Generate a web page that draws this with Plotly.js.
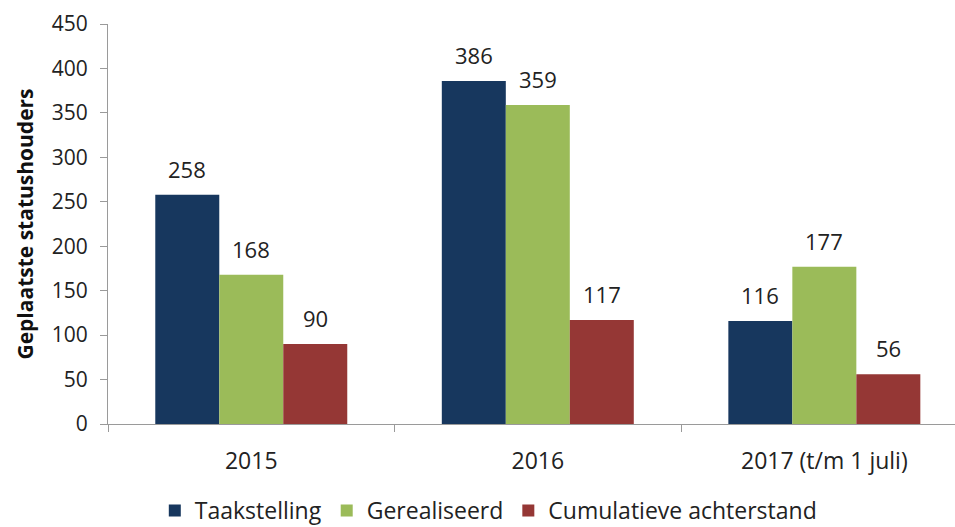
<!DOCTYPE html>
<html><head><meta charset="utf-8">
<script src="https://cdn.plot.ly/plotly-3.0.1.min.js"></script>
<style>html,body{margin:0;padding:0;background:#fff}#c{width:955px;height:527px}</style>
</head><body><div id="c"></div>
<script>
const categories = ["2015", "2016", "2017 (t/m 1 juli)"];
const taakstelling = [258, 386, 116];
const gerealiseerd = [168, 359, 177];
const achterstand = [90, 117, 56];
const seriesNames = ["Taakstelling", "Gerealiseerd", "Cumulatieve achterstand"];
const colors = ["#17375E", "#9BBB59", "#953735"];
const FONT = "'Open Sans', sans-serif";
const vals = [taakstelling, gerealiseerd, achterstand];

const W = 955, H = 527, M = {l: 108, r: 0, t: 24, b: 103};
const xRange = [-0.5, 2.456];
const bargap = 0.33;
const catPx = (W - M.l - M.r) / (xRange[1] - xRange[0]);
const barPx = catPx * (1 - bargap) / vals.length;

const traces = vals.map((v, i) => ({
  type: "bar", x: categories, y: v, name: seriesNames[i],
  marker: {color: colors[i]}
}));
const annotations = [];
vals.forEach((v, i) => v.forEach((y, j) => annotations.push({
  x: j, y: y, xref: "x", yref: "y", text: String(y), showarrow: false,
  xshift: (i - (vals.length - 1) / 2) * barPx, yshift: 9, yanchor: "bottom",
  font: {family: FONT, size: 22, color: "#222"}
})));
const layout = {
  width: W, height: H, margin: M,
  paper_bgcolor: "#fff", plot_bgcolor: "#fff",
  barmode: "group", bargap: bargap, bargroupgap: 0,
  font: {family: FONT, size: 21, color: "#222"},
  annotations: annotations,
  xaxis: {type: "category", range: xRange, showline: true, linecolor: "#9a9a9a", linewidth: 1,
    ticks: "outside", tickson: "boundaries", ticklen: 7, tickcolor: "#9a9a9a", ticklabelstandoff: 16,
    tickfont: {family: FONT, size: 23, color: "#222"}, showgrid: false, fixedrange: true},
  yaxis: {range: [0, 450], dtick: 50, showline: true, linecolor: "#9a9a9a", linewidth: 1,
    ticks: "outside", ticklen: 7, tickcolor: "#9a9a9a", showgrid: false, zeroline: false,
    ticklabelstandoff: 8,
    tickfont: {family: FONT, size: 21, color: "#222"},
    title: {text: "<b>Geplaatste statushouders</b>", font: {family: FONT, size: 21, color: "#111"}, standoff: 12}},
  legend: {orientation: "h", x: 0.449, xanchor: "center", yref: "container", y: 0.072, yanchor: "top",
    font: {family: FONT, size: 23, color: "#222"}, itemwidth: 30, traceorder: "normal"},
  showlegend: true
};
Plotly.newPlot("c", traces, layout, {displayModeBar: false, staticPlot: true});
</script></body></html>
